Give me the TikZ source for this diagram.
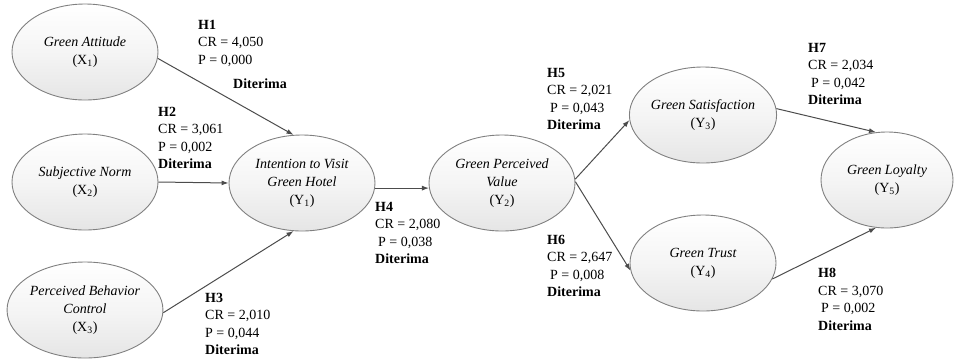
\documentclass[tikz,border=0pt]{standalone}
\usepackage{fontspec}
\setmainfont{Liberation Serif}
\usetikzlibrary{shapes.geometric,arrows.meta}
\begin{document}
\begin{tikzpicture}[x=1pt,y=-1pt,
  latent/.style={ellipse,draw=black!50,line width=0.9pt,top color=white,bottom color=black!10,middle color=black!4,
    minimum width=146pt,minimum height=96pt,inner sep=0pt,align=center,
    font=\fontsize{14}{18}\selectfont\itshape},
  rel/.style={draw=black!70,line width=1pt,-{Latex[length=7pt,width=5pt]}},
  lab/.style={anchor=north west,inner sep=0pt,align=left,font=\fontsize{14}{17.5}\selectfont}]
\useasboundingbox (0,0) rectangle (955,360);
% latent variables
\node[latent] (X1) at (85,52) {Green Attitude\\{\upshape(X\textsubscript{1})}};
\node[latent] (X2) at (85,182) {Subjective Norm\\{\upshape(X\textsubscript{2})}};
\node[latent] (X3) at (85,310) {Perceived Behavior\\Control\\{\upshape(X\textsubscript{3})}};
\node[latent] (Y1) at (302,183) {Intention to Visit\\Green Hotel\\{\upshape(Y\textsubscript{1})}};
\node[latent] (Y2) at (502,183) {Green Perceived\\Value\\{\upshape(Y\textsubscript{2})}};
\node[latent] (Y3) at (703,115) {Green Satisfaction\\{\upshape(Y\textsubscript{3})}};
\node[latent] (Y4) at (703,263) {Green Trust\\{\upshape(Y\textsubscript{4})}};
\node[latent,minimum width=132pt] (Y5) at (887,180) {Green Loyalty\\{\upshape(Y\textsubscript{5})}};
% paths
\draw[rel] (X1.-5) -- (Y1.100);
\draw[rel] (X2.east) -- (Y1.west);
\draw[rel] (X3.-2) -- (Y1.260);
\draw[rel] (Y1.-4) -- (Y2.184);
\draw[rel] (Y2.3) -- (Y3.184);
\draw[rel] (Y2.1) -- (Y4.186);
\draw[rel] (Y3.5) -- (Y5.103);
\draw[rel] (Y4.-13) -- (Y5.257);
% labels
\node[lab] (h1) at (198,20) {\textbf{H1}\\CR = 4,050\\P = 0,000};
\node[lab] (h1d) at (233,79) {\textbf{Diterima}};
\node[lab] (h2) at (158,107) {\textbf{H2}\\CR = 3,061\\P = 0,002\\\textbf{Diterima}};
\node[lab] (h3) at (205,293) {\textbf{H3}\\CR = 2,010\\P = 0,044\\\textbf{Diterima}};
\node[lab] (h4) at (375,202) {\textbf{H4}\\CR = 2,080\\\hspace*{3pt}P = 0,038\\\textbf{Diterima}};
\node[lab] (h5) at (547,68) {\textbf{H5}\\CR = 2,021\\\hspace*{3pt}P = 0,043\\\textbf{Diterima}};
\node[lab] (h6) at (547,235) {\textbf{H6}\\CR = 2,647\\\hspace*{3pt}P = 0,008\\\textbf{Diterima}};
\node[lab] (h7) at (808,43) {\textbf{H7}\\CR = 2,034\\\hspace*{3pt}P = 0,042\\\textbf{Diterima}};
\node[lab] (h8) at (818,268) {\textbf{H8}\\CR = 3,070\\\hspace*{3pt}P = 0,002\\\textbf{Diterima}};
\end{tikzpicture}
\end{document}
